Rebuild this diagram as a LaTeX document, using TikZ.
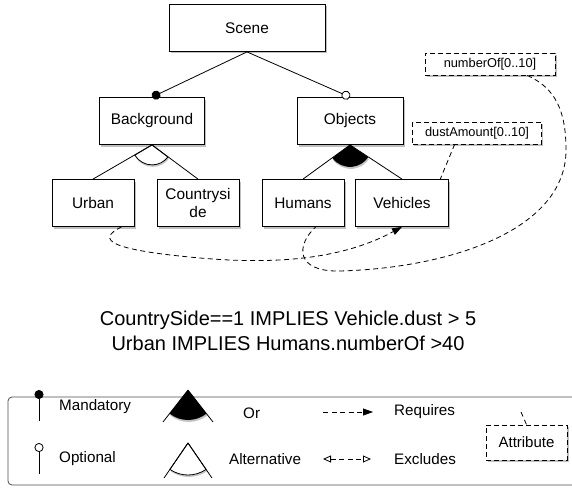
\documentclass[tikz,border=0pt]{standalone}
\usepackage{fontspec}
\setmainfont{Liberation Sans}
\usetikzlibrary{arrows.meta}
\usetikzlibrary{shadows}
\usetikzlibrary{calc}
\tikzstyle{feature} = [draw=black, fill=white, line width=0.8pt, inner sep=0pt, minimum height=47pt, align=center, font=\fontsize{15.4}{18.5}\selectfont, drop shadow={shadow xshift=1.5pt, shadow yshift=-2pt, opacity=0.5}]
\tikzstyle{attribute} = [feature, dash pattern=on 5pt off 3pt, minimum height=22pt, font=\fontsize{12.8}{15}\selectfont]
\tikzstyle{link} = [line width=0.8pt]
\tikzstyle{dashline} = [line width=0.8pt, dash pattern=on 5pt off 3.5pt]
\tikzstyle{requires} = [dashline, -{Triangle[length=10pt,width=7pt]}]
\tikzstyle{excludes} = [dashline, {Triangle[fill=white,length=8pt,width=7pt]}-{Triangle[fill=white,length=8pt,width=7pt]}]

\begin{document}
\begin{tikzpicture}[x=1pt, y=1pt,
		mand/.style = {link, -{Circle[length=9pt]}},
		opt/.style = {link, -{Circle[fill=white, length=9pt]}},
		grp/.style = {drop shadow={shadow xshift=0.8pt, shadow yshift=-2pt, opacity=0.45}},
		legendtext/.style = {anchor=west, inner sep=0pt, font=\fontsize{15.2}{18}\selectfont}]

		\useasboundingbox (0,0) rectangle (572,-487);

		% Features
		\node[feature, minimum width=156pt] (Scene) at (247,-28) {Scene};
		\node[feature, minimum width=105pt] (Background) at (152,-121) {Background};
		\node[feature, minimum width=106pt] (Objects) at (350,-121) {Objects};
		\node[feature, minimum width=82pt] (Urban) at (93,-203) {Urban};
		\node[feature, minimum width=82pt] (Countryside) at (198,-203) {Countrysi\\de};
		\node[feature, minimum width=82pt] (Humans) at (303,-203) {Humans};
		\node[feature, minimum width=93pt] (Vehicles) at (402,-203) {Vehicles};

		% Attributes
		\node[attribute, minimum width=130pt] (numberOf) at (490,-64) {numberOf[0..10]};
		\node[attribute, minimum width=129pt] (dustAmount) at (477,-133) {dustAmount[0..10]};

		% Groups
		\draw[grp, link, fill=white] (Background.south) -- ++(210.7:20) arc[start angle=210.7, end angle=322.7, radius=20] -- cycle;
		\fill[grp] (Objects.south) -- ++(216.7:22) arc[start angle=216.7, end angle=326, radius=22] -- cycle;

		% Tree
		\draw[mand] (Scene.south) -- (Background.north);
		\draw[opt] (Scene.south) -- (Objects.north);
		\draw[link] (Background.south) -- (Urban.north);
		\draw[link] (Background.south) -- (Countryside.north);
		\draw[link] (Objects.south) -- (Humans.north);
		\draw[link] (Objects.south) -- (Vehicles.north);

		% Cross-tree constraints
		\draw[requires] (Urban.-40) .. controls (95,-240) and (110,-250) .. (200,-258)
			.. controls (290,-266) and (350,-255) .. (Vehicles.south);
		\draw[dashline] (numberOf.-17) .. controls (555,-88) and (566,-110) .. (566,-150)
			.. controls (566,-230) and (450,-268) .. (340,-271)
			.. controls (295,-272) and (296,-245) .. (Humans.-62);
		\draw[dashline] (dustAmount.-153) -- (Vehicles.32);

		% Constraints text
		\node[align=center, font=\fontsize{20}{25}\selectfont] (rules) at (288,-331)
			{CountrySide==1 IMPLIES Vehicle.dust > 5\\Urban IMPLIES Humans.numberOf >40};

		% Legend frame
		\draw[draw=black!70, line width=0.8pt, rounded corners=4pt] (8,-397) rectangle (620,-485);

		% Mandatory / Optional
		\coordinate (mandFoot) at (39,-421);
		\coordinate (mandHead) at (39,-390);
		\draw[mand] (mandFoot) -- (mandHead);
		\node[legendtext] (mandText) at (59,-407) {Mandatory};
		\coordinate (optFoot) at (39,-474);
		\coordinate (optHead) at (39,-443);
		\draw[opt] (optFoot) -- (optHead);
		\node[legendtext] (optText) at (59,-459) {Optional};

		% Or / Alternative
		\coordinate (orTop) at (188,-390);
		\fill[grp] (orTop) -- ++(232:30) arc[start angle=232, end angle=308, radius=30] -- cycle;
		\draw[link] (orTop) -- ++(232:40.6);
		\draw[link] (orTop) -- ++(308:40.6);
		\node[legendtext] (orText) at (243,-413) {Or};
		\coordinate (altTop) at (188,-443);
		\draw[grp, link, fill=white] (altTop) -- ++(235.6:32) arc[start angle=235.6, end angle=304.4, radius=32] -- cycle;
		\draw[link] (altTop) -- ++(235.6:42.4);
		\draw[link] (altTop) -- ++(304.4:42.4);
		\node[legendtext] (altText) at (229,-459) {Alternative};

		% Requires / Excludes
		\coordinate (reqFrom) at (323,-412);
		\coordinate (reqTo) at (373,-412);
		\draw[requires] (reqFrom) -- (reqTo);
		\node[legendtext] (reqText) at (394,-412) {Requires};
		\coordinate (exFrom) at (323,-459);
		\coordinate (exTo) at (371,-459);
		\draw[excludes] (exFrom) -- (exTo);
		\node[legendtext] (exText) at (394,-459) {Excludes};

		% Attribute
		\node[attribute, minimum width=81pt, minimum height=35pt, font=\fontsize{15}{18}\selectfont] (attr) at (526.5,-442.5) {Attribute};
		\coordinate (attrTail) at (521,-412);
		\draw[dashline] (attrTail) -- (attr.north);
\end{tikzpicture}
\end{document}
